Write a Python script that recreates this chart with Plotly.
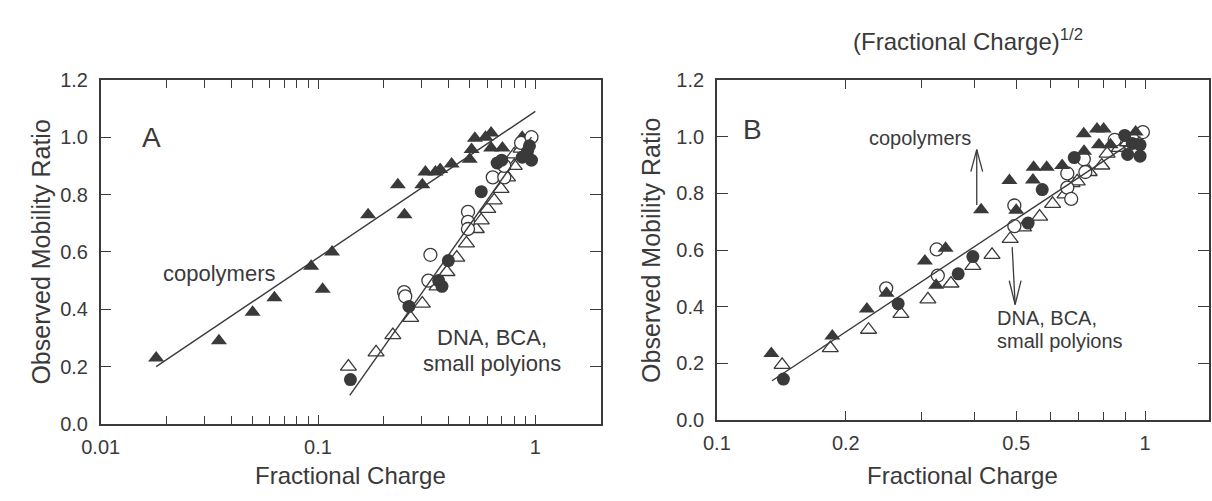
import numpy as np
import plotly.graph_objects as go

# ---------------- data: panel A (Fractional Charge, log scale) ----------------
a_cop_x = [0.018, 0.035, 0.050, 0.063, 0.093, 0.105, 0.116, 0.170, 0.233, 0.250, 0.302, 0.312,
           0.347, 0.365, 0.412, 0.499, 0.509, 0.527, 0.590, 0.626, 0.626, 0.706, 0.870]
a_cop_y = [0.23, 0.29, 0.39, 0.44, 0.55, 0.47, 0.60, 0.73, 0.834, 0.73, 0.834, 0.879,
           0.879, 0.887, 0.907, 0.923, 0.957, 0.996, 1.00, 1.015, 0.962, 0.962, 1.00]
a_otri_x = [0.138, 0.185, 0.221, 0.267, 0.302, 0.353, 0.392, 0.435, 0.482, 0.535, 0.564, 0.604,
            0.647, 0.695, 0.745, 0.800, 0.800, 0.860]
a_otri_y = [0.20, 0.25, 0.31, 0.37, 0.42, 0.48, 0.53, 0.58, 0.63, 0.68, 0.71, 0.75,
            0.78, 0.82, 0.86, 0.90, 0.94, 0.96]
a_fcir_x = [0.141, 0.262, 0.359, 0.372, 0.398, 0.564, 0.667, 0.700, 0.870, 0.920, 0.960, 0.940]
a_fcir_y = [0.155, 0.41, 0.50, 0.48, 0.57, 0.81, 0.91, 0.92, 0.93, 0.95, 0.92, 0.97]
a_ocir_x = [0.249, 0.252, 0.322, 0.329, 0.490, 0.490, 0.490, 0.637, 0.720, 0.720, 0.860, 0.960]
a_ocir_y = [0.46, 0.445, 0.50, 0.59, 0.74, 0.705, 0.68, 0.86, 0.86, 0.90, 0.98, 1.00]
a_fit_cop_x = [0.018, 1.0]
a_fit_cop_y = [0.20, 1.09]
a_fit_dna_x = [0.14, 0.96]
a_fit_dna_y = [0.10, 1.00]

# ---------------- data: panel B ----------------
b_cop_x = [0.134, 0.186, 0.224, 0.249, 0.306, 0.325, 0.342, 0.414, 0.482, 0.500, 0.549, 0.589,
           0.547, 0.640, 0.720, 0.719, 0.772, 0.800, 0.780, 0.830, 0.950]
b_cop_y = [0.235, 0.297, 0.392, 0.448, 0.561, 0.476, 0.606, 0.742, 0.845, 0.740, 0.892, 0.892,
           0.847, 0.898, 0.948, 1.010, 1.027, 1.027, 0.971, 0.971, 1.016]
b_otri_x = [0.142, 0.184, 0.226, 0.269, 0.311, 0.352, 0.396, 0.439, 0.484, 0.520, 0.567, 0.608,
            0.650, 0.675, 0.694, 0.740, 0.792, 0.815, 0.870, 0.910]
b_otri_y = [0.195, 0.254, 0.319, 0.375, 0.426, 0.482, 0.544, 0.583, 0.639, 0.680, 0.718, 0.763,
            0.796, 0.836, 0.842, 0.875, 0.898, 0.940, 0.960, 0.980]
b_fcir_x = [0.143, 0.265, 0.366, 0.396, 0.533, 0.575, 0.683, 0.896, 0.933, 0.973, 0.910, 0.973]
b_fcir_y = [0.145, 0.411, 0.516, 0.577, 0.695, 0.813, 0.926, 1.004, 0.976, 0.971, 0.937, 0.931]
b_ocir_x = [0.2485, 0.326, 0.328, 0.495, 0.495, 0.658, 0.658, 0.672, 0.719, 0.725, 0.849, 0.988]
b_ocir_y = [0.465, 0.602, 0.510, 0.757, 0.684, 0.870, 0.820, 0.780, 0.920, 0.875, 0.988, 1.016]
b_fit_x = [0.1345, 0.975]
b_fit_y = [0.139, 1.00]

# ticks
a_major = [0.01, 0.1, 1]
a_major_txt = ["0.01", "0.1", "1"]
a_minor = [0.02, 0.03, 0.04, 0.05, 0.06, 0.07, 0.08, 0.09, 0.2, 0.3, 0.4, 0.5, 0.6, 0.7, 0.8, 0.9]
b_major = [0.1, 0.2, 0.5, 1]
b_major_txt = ["0.1", "0.2", "0.5", "1"]
b_minor = [0.3, 0.4, 0.6, 0.7, 0.8, 0.9]
y_ticks = [0.0, 0.2, 0.4, 0.6, 0.8, 1.0, 1.2]

# ---------------- layout helpers ----------------
W, H = 1212, 501
INK = "#3a3a3a"
FONT = "Liberation Sans, Arial, sans-serif"


def px(x):
    return x / W


def py(y):
    return (H - y) / H


fig = go.Figure()

filled_tri = dict(symbol="triangle-up", size=14, color=INK, line=dict(width=0))
open_tri = dict(symbol="triangle-up", size=14, color="white", line=dict(color=INK, width=1.3))
filled_cir = dict(symbol="circle", size=13, color=INK, line=dict(width=0))
open_cir = dict(symbol="circle", size=13, color="white", line=dict(color=INK, width=1.3))


def markers(x, y, m, xa, ya):
    fig.add_trace(go.Scatter(x=x, y=y, mode="markers", marker=m, xaxis=xa, yaxis=ya,
                             showlegend=False, hoverinfo="skip"))


def fit(x, y, xa, ya):
    fig.add_trace(go.Scatter(x=x, y=y, mode="lines", line=dict(color=INK, width=1.4),
                             xaxis=xa, yaxis=ya, showlegend=False, hoverinfo="skip"))


# panel A
markers(a_cop_x, a_cop_y, filled_tri, "x", "y")
markers(a_otri_x, a_otri_y, open_tri, "x", "y")
markers(a_ocir_x, a_ocir_y, open_cir, "x", "y")
markers(a_fcir_x, a_fcir_y, filled_cir, "x", "y")
fit(a_fit_cop_x, a_fit_cop_y, "x", "y")
fit(a_fit_dna_x, a_fit_dna_y, "x", "y")

# panel B
markers(b_otri_x, b_otri_y, open_tri, "x2", "y2")
markers(b_ocir_x, b_ocir_y, open_cir, "x2", "y2")
markers(b_cop_x, b_cop_y, filled_tri, "x2", "y2")
markers(b_fcir_x, b_fcir_y, filled_cir, "x2", "y2")
fit(b_fit_x, b_fit_y, "x2", "y2")

tickfont = dict(family=FONT, size=20, color=INK)
common_x = dict(type="log", showline=True, linecolor=INK, linewidth=1.5, mirror="ticks",
                ticks="inside", ticklen=9, tickwidth=1.2, tickcolor=INK, showgrid=False,
                zeroline=False, tickfont=tickfont, ticklabelstandoff=4)
common_y = dict(range=[0, 1.2], tickvals=y_ticks, ticktext=[f"{v:.1f}" for v in y_ticks],
                showline=True, linecolor=INK, linewidth=1.5, mirror="ticks", ticks="inside",
                ticklen=11, tickwidth=1.2, tickcolor=INK, showgrid=False, zeroline=False,
                tickfont=tickfont, ticklabelstandoff=7)

minor_a = dict(tickvals=a_minor, ticks="inside", ticklen=8, tickwidth=1.2, tickcolor=INK, showgrid=False)
minor_b = dict(tickvals=b_minor, ticks="inside", ticklen=8, tickwidth=1.2, tickcolor=INK, showgrid=False)

fig.update_layout(
    width=W, height=H, margin=dict(l=0, r=0, t=0, b=0),
    paper_bgcolor="white", plot_bgcolor="white",
    xaxis=dict(common_x, domain=[px(83), px(591)], range=[np.log10(0.01), np.log10(2.0)],
               tickvals=a_major, ticktext=a_major_txt, minor=minor_a, anchor="y"),
    yaxis=dict(common_y, domain=[py(432), py(72)], anchor="x"),
    xaxis2=dict(common_x, domain=[px(709), px(1209)], range=[np.log10(0.1), np.log10(1.41)],
                tickvals=b_major, ticktext=b_major_txt, minor=minor_b, anchor="y2"),
    yaxis2=dict(common_y, domain=[py(428), py(72)], anchor="x2"),
)

ann = []


def text(x, y, s, size, angle=0, align="center", xanchor="center"):
    ann.append(dict(x=px(x), y=py(y), xref="paper", yref="paper", text=s, showarrow=False,
                    textangle=angle, align=align, xanchor=xanchor, yanchor="middle",
                    font=dict(family=FONT, size=size, color=INK)))


text(22, 252, "Observed Mobility Ratio", 25, angle=-90)
text(642, 250, "Observed Mobility Ratio", 25, angle=-90)
text(337, 486, "Fractional Charge", 24)
text(959, 486, "Fractional Charge", 24)
text(964, 30, "(Fractional Charge)<sup>1/2</sup>", 24)
text(135, 132, "A", 28)
text(745, 124, "B", 28)
text(203, 275, "copolymers", 22)
text(481, 342, "DNA, BCA,", 22)
text(481, 369, "small polyions", 22)
text(915, 133, "copolymers", 20)
text(992, 321, "DNA, BCA,", 20, align="left", xanchor="left")
text(992, 345, "small polyions", 20, align="left", xanchor="left")

fig.update_layout(annotations=ann)

# arrows in panel B (shaft + open V head), drawn as paper-space line shapes
shapes = []


def seg(x0, y0, x1, y1):
    shapes.append(dict(type="line", xref="paper", yref="paper", x0=px(x0), y0=py(y0),
                       x1=px(x1), y1=py(y1), line=dict(color=INK, width=1.3)))


seg(973, 203, 973, 145)
seg(973, 145, 967, 168)
seg(973, 145, 979, 168)
seg(1009, 247, 1012, 307)
seg(1012, 307, 1006, 282)
seg(1012, 307, 1018, 282)

fig.update_layout(shapes=shapes)
fig.write_html("out.html")
